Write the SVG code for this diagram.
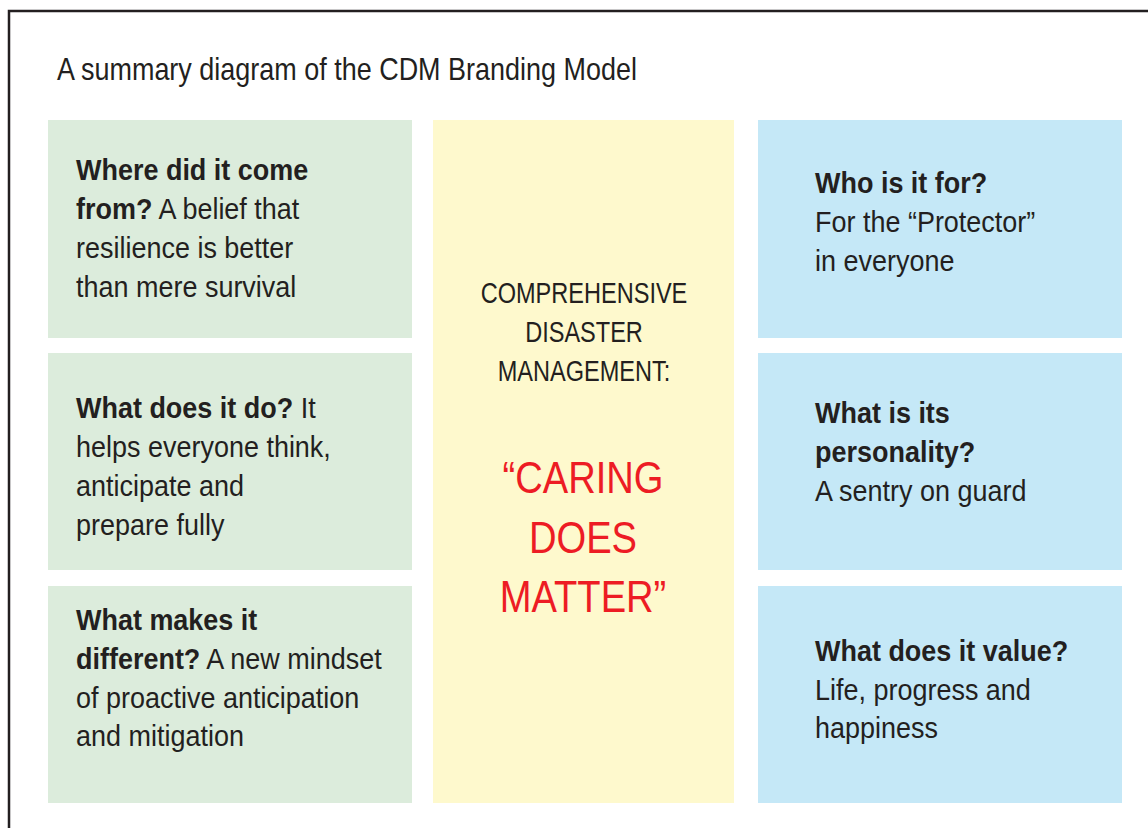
<svg xmlns="http://www.w3.org/2000/svg" width="1148" height="828" viewBox="0 0 1148 828">
<style>
text{font-family:"Liberation Sans",Arial,sans-serif;fill:#231f20;font-size:29px}
.b{font-weight:bold}
.t{font-size:32px}
.g{fill:#dcecdc}.y{fill:#fef9cd}.c{fill:#c5e8f7}
.ctr{text-anchor:middle;font-size:30px}
.red{fill:#ed1c24;font-size:44px}
</style>
<rect x="0" y="0" width="1148" height="828" fill="#fff"/>
<rect x="9" y="11" width="1160" height="840" fill="none" stroke="#231f20" stroke-width="2.5"/>
<g transform="translate(57 0) scale(0.843 1)"><text class="t" x="0" y="80">A summary diagram of the CDM Branding Model</text></g>
<g id="origin"><rect class="g" x="48" y="120" width="364" height="218"/>
<g transform="translate(76 0) scale(0.93 1)"><text x="0" y="180"><tspan class="b">Where did it come</tspan><tspan x="0" y="219" class="b">from?</tspan> A belief that<tspan x="0" y="258">resilience is better</tspan><tspan x="0" y="297">than mere survival</tspan></text></g></g>
<g id="does"><rect class="g" x="48" y="353" width="364" height="217"/>
<g transform="translate(76 0) scale(0.93 1)"><text x="0" y="418"><tspan class="b">What does it do?</tspan> It<tspan x="0" y="457">helps everyone think,</tspan><tspan x="0" y="496">anticipate and</tspan><tspan x="0" y="535">prepare fully</tspan></text></g></g>
<g id="different"><rect class="g" x="48" y="586" width="364" height="217"/>
<g transform="translate(76 0) scale(0.93 1)"><text x="0" y="630"><tspan class="b">What makes it</tspan><tspan x="0" y="669" class="b">different?</tspan> A new mindset<tspan x="0" y="708">of proactive anticipation</tspan><tspan x="0" y="746">and mitigation</tspan></text></g></g>
<g id="center"><rect class="y" x="433" y="120" width="301" height="683"/>
<g transform="translate(584 0) scale(0.785 1)"><text class="ctr" x="0" y="303">COMPREHENSIVE<tspan x="0" y="342">DISASTER</tspan><tspan x="0" y="381">MANAGEMENT:</tspan></text></g>
<g transform="translate(583 0) scale(0.867 1)"><text class="ctr red" x="0" y="493">“CARING<tspan x="0" y="553">DOES</tspan><tspan x="0" y="612">MATTER”</tspan></text></g></g>
<g id="who"><rect class="c" x="758" y="120" width="364" height="218"/>
<g transform="translate(815 0) scale(0.93 1)"><text x="0" y="193"><tspan class="b">Who is it for?</tspan><tspan x="0" y="232">For the “Protector”</tspan><tspan x="0" y="271">in everyone</tspan></text></g></g>
<g id="personality"><rect class="c" x="758" y="353" width="364" height="217"/>
<g transform="translate(815 0) scale(0.93 1)"><text x="0" y="423"><tspan class="b">What is its</tspan><tspan x="0" y="462" class="b">personality?</tspan><tspan x="0" y="501">A sentry on guard</tspan></text></g></g>
<g id="value"><rect class="c" x="758" y="586" width="364" height="217"/>
<g transform="translate(815 0) scale(0.93 1)"><text x="0" y="661"><tspan class="b">What does it value?</tspan><tspan x="0" y="700">Life, progress and</tspan><tspan x="0" y="738">happiness</tspan></text></g></g>
<g id="connectors"/>
</svg>
